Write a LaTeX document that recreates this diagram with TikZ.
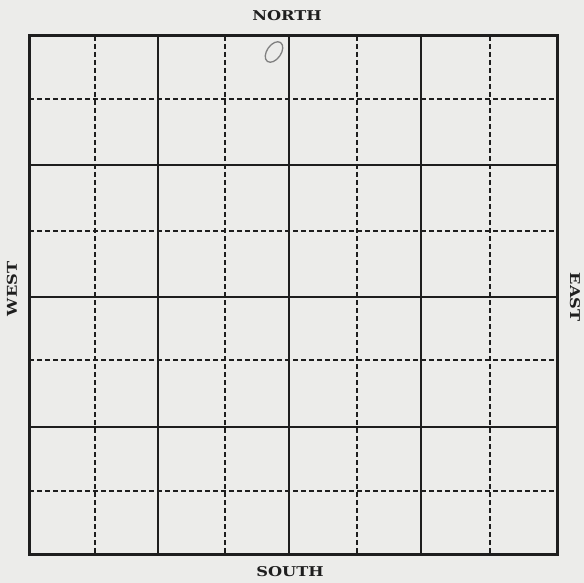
\documentclass[tikz,border=0pt]{standalone}
\usepackage{fontspec}
\newfontfamily\lblfont{DejaVu Serif}
\definecolor{paper}{RGB}{236,236,234}
\definecolor{ink}{RGB}{30,30,30}
\tikzset{
  frame/.style={draw=ink, line width=3pt},
  solidline/.style={draw=ink, line width=1.6pt},
  dashline/.style={draw=ink, line width=1.4pt, dash pattern=on 5pt off 3pt},
  compass/.style={inner sep=0pt, text=ink, font=\lblfont\bfseries\fontsize{13.5}{13.5}\selectfont}
}
\begin{document}
\begin{tikzpicture}[x=1pt,y=-1pt]
\useasboundingbox (0,0) rectangle (584,583);
\fill[paper] (0,0) rectangle (584,583);
% dashed lines
\foreach \x in {95,225,357,490} \draw[dashline] (\x,36) -- (\x,554);
\foreach \y in {99,231,360,491} \draw[dashline] (29,\y) -- (557,\y);
% solid lines
\foreach \x in {158,289,421} \draw[solidline] (\x,36) -- (\x,554);
\foreach \y in {165,297,427} \draw[solidline] (29,\y) -- (557,\y);
% frame
\draw[frame] (29,36) rectangle (557,554);
% labels
\node[compass] (north) at (287,16) {\scalebox{1.2}[1]{NORTH}};
\node[compass] (south) at (290,572) {\scalebox{1.2}[1]{SOUTH}};
\node[compass, rotate=90] (west) at (12,289) {\scalebox{1.2}[1]{WEST}};
\node[compass, rotate=-90] (east) at (575,297) {\scalebox{1.2}[1]{EAST}};
% handwritten mark
\draw[gray, line width=1.3pt, rotate around={55:(274,52)}] (274,52) ellipse (11.5pt and 7pt);
\end{tikzpicture}
\end{document}
